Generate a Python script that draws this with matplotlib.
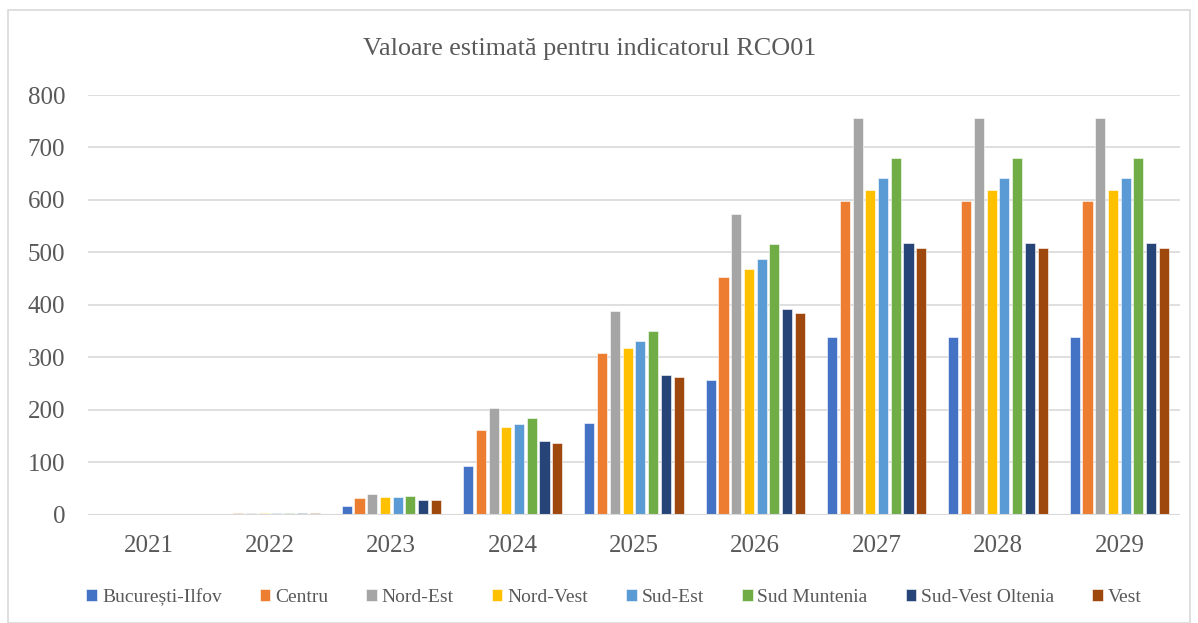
import numpy as np
import matplotlib.pyplot as plt
from matplotlib.patches import Rectangle

years = ["2021", "2022", "2023", "2024", "2025", "2026", "2027", "2028", "2029"]
regions = ["București-Ilfov", "Centru", "Nord-Est", "Nord-Vest",
           "Sud-Est", "Sud Muntenia", "Sud-Vest Oltenia", "Vest"]

bucuresti_ilfov = [0, 1, 17, 92, 174, 257, 339, 339, 339]
centru = [0, 2, 32, 161, 308, 453, 597, 597, 597]
nord_est = [0, 2, 40, 204, 388, 573, 756, 756, 756]
nord_vest = [0, 2, 33, 167, 318, 468, 619, 619, 619]
sud_est = [0, 2, 34, 173, 330, 487, 642, 642, 642]
sud_muntenia = [0, 2, 36, 184, 350, 516, 680, 680, 680]
sud_vest_oltenia = [0, 2, 27, 140, 266, 392, 517, 517, 517]
vest = [0, 2, 27, 137, 262, 385, 508, 508, 508]

series = [bucuresti_ilfov, centru, nord_est, nord_vest,
          sud_est, sud_muntenia, sud_vest_oltenia, vest]
colors = ["#4472C4", "#ED7D31", "#A5A5A5", "#FFC000",
          "#5B9BD5", "#70AD47", "#264478", "#9E480E"]

plt.rcParams['font.family'] = ['Liberation Serif', 'DejaVu Serif']
text_color = "#595959"
grid_color = "#D9D9D9"

fig = plt.figure(figsize=(11.98, 6.23), dpi=100)
ax = fig.add_axes([88 / 1198, 1 - 514.5 / 623, (1180 - 88) / 1198, (514.5 - 95) / 623])

x = np.arange(len(years))
stride = 0.105
width = 0.083
for i, (vals, col, name) in enumerate(zip(series, colors, regions)):
    ax.bar(x + (i - 3.5) * stride, vals, width=width, color=col, label=name,
           edgecolor="white", linewidth=0.4, zorder=3)

ax.set_xlim(-0.5, len(years) - 0.5)
ax.set_ylim(0, 800)
ax.set_yticks(range(0, 801, 100))
ax.set_xticks(x)
ax.set_xticklabels(years)
ax.yaxis.grid(True, color=grid_color, linewidth=1.2, zorder=0)
for s in ax.spines.values():
    s.set_visible(False)
ax.axhline(0, color=grid_color, linewidth=1.5, zorder=4)
ax.tick_params(axis='both', length=0, labelsize=18, colors=text_color)
ax.tick_params(axis='y', pad=16.5)
ax.tick_params(axis='x', pad=15)

fig.text(590 / 1198, 1 - 55 / 623, "Valoare estimată pentru indicatorul RCO01",
         fontsize=18.8, color=text_color, ha="center", va="baseline")

leg = fig.legend(loc="center", bbox_to_anchor=(614 / 1198, 1 - 597 / 623), ncol=8,
                 frameon=False, fontsize=14, handlelength=0.55, handleheight=0.55,
                 handletextpad=0.25, columnspacing=1.95, labelcolor=text_color)

# light chart-area border
fig.patches.append(Rectangle((8 / 1198, 0.0), 1182 / 1198, 1 - 10 / 623,
                             transform=fig.transFigure, fill=False,
                             edgecolor=grid_color, linewidth=1.2))

fig.savefig("out.png", dpi=100)
